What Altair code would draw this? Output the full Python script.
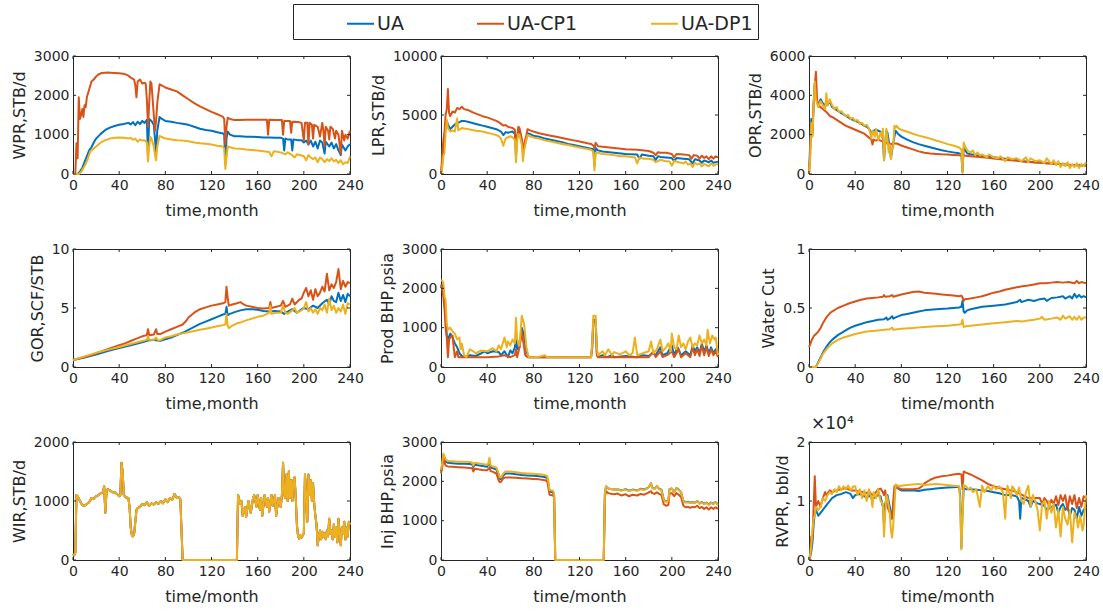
import altair as alt
import pandas as pd

SERIES = ["UA", "UA-CP1", "UA-DP1"]
COLORS = ["#0072BD", "#D95319", "#EDB120"]
X_TICKS = [0, 40, 80, 120, 160, 200, 240]
AX = "#262626"
FONT = "DejaVu Sans"
W, H = 277, 118
TL = 3

# ---------------- WPR ----------------
wpr_ua = [(0,0),(4,0),(6,60),(8,150),(10,300),(12,450),(14,600),(16,680),(18,800),(20,900),(24,1020),(28,1120),(32,1180),(36,1220),(40,1250),(44,1270),(48,1300),(50,1260),(52,1320),(54,1240),(56,1330),(58,1270),(60,1350),(62,1300),(64,1380),(65,450),(66,1400),(68,1350),(70,1250),(71,900),(72,520),(73,1100),(75,1450),(77,1400),(80,1350),(85,1330),(90,1300),(95,1280),(100,1250),(105,1200),(110,1150),(115,1120),(120,1100),(125,1060),(130,1030),(131,1000),(132,250),(133,900),(134,1080),(136,1000),(140,960),(145,960),(150,950),(155,950),(160,940),(165,930),(170,930),(175,920),(180,920),(182,900),(183,600),(184,900),(186,880),(189,880),(190,600),(191,880),(195,860),(198,860),(200,800),(202,850),(204,750),(206,850),(208,700),(210,820),(212,650),(214,850),(216,800),(218,520),(219,820),(222,700),(224,800),(226,650),(228,760),(230,600),(232,480),(233,750),(236,600),(238,700),(240,760)]
wpr_cp1 = [(0,0),(2,0),(3,780),(4,400),(5,1950),(6,1400),(7,1500),(8,1650),(9,1450),(10,1750),(11,1700),(12,1950),(14,2150),(16,2350),(18,2400),(20,2480),(22,2530),(25,2570),(30,2580),(35,2570),(40,2560),(45,2540),(48,2500),(50,2450),(53,2400),(54,2250),(55,1950),(56,2350),(58,2400),(60,2300),(62,2320),(63,2300),(64,1900),(65,1200),(66,1800),(67,2350),(68,2300),(69,1900),(70,1500),(71,1100),(72,1350),(73,1800),(75,2280),(77,2250),(80,2200),(85,2150),(90,2100),(95,2000),(100,1900),(105,1800),(110,1720),(115,1650),(120,1580),(125,1520),(130,1450),(131,1400),(132,750),(133,1200),(134,1430),(136,1400),(140,1370),(145,1370),(150,1380),(155,1380),(160,1380),(165,1380),(168,1380),(169,1000),(170,1380),(175,1370),(180,1370),(181,1370),(182,1000),(183,1350),(186,1350),(188,1350),(189,1050),(190,1330),(195,1320),(198,1300),(200,850),(201,1300),(203,1300),(204,750),(205,1300),(207,1250),(208,900),(209,1250),(212,1200),(214,950),(216,1300),(217,1100),(218,700),(219,1200),(221,1100),(222,880),(223,1200),(225,1150),(227,900),(228,1100),(230,1000),(232,500),(233,1100),(235,850),(236,1000),(238,900),(240,1100)]
wpr_dp1 = [(0,0),(5,0),(7,50),(9,150),(11,260),(13,400),(15,580),(17,620),(20,700),(24,800),(28,860),(32,900),(36,920),(40,930),(44,920),(48,900),(50,920),(52,870),(54,900),(56,820),(58,880),(60,850),(62,860),(64,800),(65,320),(66,700),(67,950),(68,900),(70,700),(71,500),(72,350),(73,700),(75,970),(77,940),(80,900),(85,880),(90,860),(95,850),(100,830),(105,800),(110,780),(115,770),(120,750),(125,720),(130,700),(131,650),(132,130),(133,400),(134,700),(136,680),(140,650),(145,640),(150,620),(155,610),(160,600),(165,580),(170,560),(172,450),(174,580),(180,550),(184,500),(186,550),(190,480),(192,420),(194,500),(198,470),(200,450),(202,350),(204,480),(206,420),(208,380),(210,420),(212,300),(214,420),(216,380),(218,300),(220,380),(222,330),(224,400),(226,320),(228,360),(230,280),(232,350),(234,250),(236,300),(238,280),(240,450)]

# ---------------- LPR ----------------
lpr_ua = [(0,0),(1,800),(2,2000),(3,3200),(4,3800),(5,4500),(6,4200),(8,3800),(10,4000),(12,4200),(14,4300),(16,4400),(18,4500),(20,4500),(24,4400),(28,4300),(32,4200),(36,4100),(40,4000),(44,3900),(48,3800),(50,3700),(52,3600),(54,3300),(56,3550),(58,3500),(60,3550),(62,3600),(64,3400),(65,1500),(66,3200),(68,3700),(70,2800),(71,1800),(72,2200),(74,3000),(75,3450),(77,3400),(80,3250),(85,3150),(90,3000),(95,2900),(100,2800),(105,2700),(110,2550),(115,2450),(120,2350),(125,2250),(130,2150),(132,2100),(133,700),(134,2200),(136,2000),(140,1900),(150,1800),(160,1700),(170,1650),(172,1300),(174,1650),(180,1550),(184,1500),(186,1200),(188,1500),(190,1450),(195,1400),(200,1350),(202,1100),(204,1350),(210,1300),(215,1250),(218,900),(220,1250),(224,1150),(226,950),(228,1150),(232,1000),(234,1150),(236,950),(240,1050)]
lpr_cp1 = [(0,0),(1,1500),(2,2800),(3,3500),(4,5000),(5,5500),(6,7200),(7,5200),(8,4900),(10,5300),(12,5200),(14,5600),(16,5500),(18,5700),(20,5500),(24,5400),(28,5200),(32,5050),(36,4900),(40,4800),(44,4650),(48,4500),(50,4400),(52,4250),(54,4100),(56,4150),(58,4000),(60,3950),(62,3900),(64,3750),(65,2300),(66,3200),(67,4000),(68,3900),(70,3000),(71,2000),(72,2500),(74,3300),(75,3800),(77,3700),(80,3600),(85,3450),(90,3350),(95,3250),(100,3150),(105,3050),(110,2950),(115,2850),(120,2750),(125,2650),(130,2550),(132,2400),(133,2200),(134,2650),(136,2350),(140,2300),(150,2200),(160,2100),(170,2050),(180,1950),(184,1800),(186,1600),(188,1850),(190,1800),(195,1800),(200,1700),(202,1400),(204,1700),(210,1650),(215,1600),(217,1300),(219,1600),(222,1550),(224,1300),(226,1550),(228,1350),(230,1500),(232,1250),(234,1500),(236,1300),(238,1500),(240,1400)]
lpr_dp1 = [(0,0),(1,500),(2,1500),(3,1800),(4,3500),(5,4600),(6,3900),(8,3600),(10,3700),(12,3600),(14,4700),(15,3700),(18,3900),(20,3850),(24,3800),(28,3700),(32,3650),(36,3600),(40,3500),(44,3400),(48,3300),(50,3200),(52,3000),(54,2400),(56,3000),(58,3100),(60,3200),(62,3100),(64,2900),(65,1000),(66,2800),(67,3400),(68,3300),(70,2500),(71,1100),(72,2000),(74,2900),(75,3300),(77,3200),(80,3100),(85,3000),(90,2850),(95,2750),(100,2650),(105,2550),(110,2450),(115,2350),(120,2250),(125,2150),(130,2050),(132,1900),(133,300),(134,1800),(136,1800),(140,1700),(145,1650),(150,1600),(155,1500),(160,1500),(165,1450),(168,1400),(170,900),(172,1400),(176,1300),(180,1300),(184,1200),(186,1000),(190,1200),(194,1100),(198,1050),(200,700),(202,1100),(206,1000),(210,900),(212,1050),(214,800),(216,900),(218,600),(220,950),(222,800),(224,900),(226,650),(228,850),(230,750),(232,650),(234,900),(236,700),(238,800),(240,850)]

# ---------------- OPR ----------------
opr_ua = [(0,0),(1,1500),(2,2800),(3,2000),(4,3500),(5,4600),(6,4000),(7,3700),(8,3500),(10,3800),(12,3600),(14,3500),(16,3500),(18,3700),(20,3400),(24,3250),(28,3100),(32,2950),(36,2800),(40,2700),(44,2600),(48,2450),(50,2400),(52,2300),(54,2100),(56,2200),(58,2250),(60,2200),(62,2150),(64,1800),(65,700),(66,1500),(67,2200),(68,2100),(70,1300),(71,800),(72,1200),(74,1900),(75,2200),(77,2050),(80,1900),(85,1750),(90,1620),(95,1520),(100,1440),(105,1360),(110,1280),(115,1210),(120,1150),(125,1100),(130,1050),(132,1000),(133,100),(134,1300),(135,1250),(137,1050),(140,1000),(145,950),(150,900),(160,850),(170,780),(180,700),(185,650),(190,620),(195,600),(200,580),(205,550),(210,530),(215,510),(220,500),(225,470),(230,460),(235,440),(240,450)]
opr_cp1 = [(0,0),(1,1000),(2,2500),(3,2200),(4,3600),(5,4500),(6,5200),(7,3800),(8,3500),(10,3400),(12,3300),(14,3200),(16,3100),(18,2950),(20,2900),(24,2750),(28,2600),(32,2450),(36,2350),(40,2250),(44,2150),(48,2050),(50,1950),(52,1850),(54,1750),(55,1500),(56,1750),(58,1700),(60,1750),(62,1700),(64,1650),(66,1600),(68,1550),(70,1550),(72,1500),(74,1550),(76,1550),(80,1450),(85,1350),(90,1250),(95,1150),(100,1080),(105,1040),(110,1020),(115,1000),(120,990),(125,970),(130,950),(134,940),(140,900),(145,880),(150,850),(155,820),(160,790),(170,730),(180,670),(190,610),(200,570),(210,530),(220,490),(230,450),(240,420)]
opr_dp1 = [(0,0),(1,800),(2,2600),(3,1900),(4,3500),(5,4700),(6,3800),(7,3600),(8,3400),(10,3700),(12,3500),(14,3300),(15,4100),(16,3500),(18,3800),(20,3500),(22,3300),(24,3400),(26,3150),(28,3200),(30,3050),(32,2950),(34,3000),(36,2800),(38,2850),(40,2700),(42,2750),(44,2550),(46,2600),(48,2450),(50,2500),(52,2300),(53,2100),(54,1800),(55,2200),(57,1900),(58,2300),(60,1700),(62,2100),(63,1900),(64,2300),(65,700),(66,1500),(67,2300),(68,1800),(69,1100),(70,1500),(71,750),(72,1300),(73,1400),(74,2450),(75,2350),(76,2450),(78,2300),(80,2250),(85,2150),(90,2050),(95,1950),(100,1880),(105,1800),(110,1700),(115,1620),(120,1520),(125,1450),(130,1350),(132,1250),(133,50),(134,1600),(135,1450),(136,1300),(138,1150),(140,1100),(142,1200),(144,950),(146,1100),(148,950),(150,1000),(154,850),(156,1000),(160,850),(164,800),(166,900),(170,650),(172,850),(176,750),(180,800),(184,650),(188,850),(190,600),(192,800),(196,650),(200,700),(204,550),(206,800),(210,500),(212,700),(214,450),(216,650),(218,350),(220,550),(222,400),(224,600),(226,300),(228,500),(230,350),(232,550),(234,300),(236,500),(238,400),(240,600)]

# ---------------- GOR ----------------
gor_ua = [(0,0.6),(10,0.8),(20,1.05),(30,1.35),(40,1.6),(50,1.85),(60,2.1),(65,2.25),(70,2.3),(75,2.2),(80,2.35),(85,2.5),(90,2.7),(95,2.9),(100,3.15),(105,3.4),(110,3.65),(115,3.85),(120,4.05),(125,4.25),(130,4.45),(132,4.5),(133,5.1),(134,4.4),(136,4.5),(140,4.65),(145,4.8),(150,4.9),(155,4.9),(160,4.85),(165,4.75),(170,4.7),(175,4.75),(180,4.7),(183,4.5),(186,4.7),(190,4.9),(194,4.6),(198,4.9),(200,5.0),(204,4.9),(208,5.2),(212,5.0),(216,5.4),(220,5.7),(222,5.3),(224,6.0),(226,5.6),(228,5.5),(230,6.3),(232,5.6),(234,6.1),(236,5.5),(238,6.2),(240,6.0)]
gor_cp1 = [(0,0.6),(10,0.85),(20,1.15),(30,1.5),(40,1.85),(45,2.0),(50,2.2),(55,2.4),(60,2.6),(64,2.7),(65,3.2),(66,2.7),(70,2.75),(72,3.2),(73,2.8),(76,2.8),(80,3.0),(85,3.2),(90,3.4),(95,3.6),(98,3.9),(100,4.2),(105,4.6),(110,4.9),(115,5.05),(120,5.2),(125,5.3),(130,5.4),(132,5.5),(133,6.8),(134,5.9),(135,5.2),(138,5.3),(142,5.4),(145,5.5),(148,5.3),(150,5.2),(155,5.1),(160,5.0),(165,4.95),(170,5.0),(171,5.5),(172,5.0),(176,5.1),(180,5.2),(182,5.6),(184,5.1),(188,5.3),(190,5.8),(192,5.3),(196,5.7),(198,5.8),(200,6.3),(202,6.7),(204,6.0),(206,6.5),(208,5.7),(210,6.6),(212,6.0),(214,6.3),(216,6.8),(218,6.4),(220,7.9),(222,6.5),(224,7.0),(226,6.7),(228,7.2),(230,8.3),(232,6.6),(234,7.3),(236,6.8),(238,7.2),(240,7.1)]
gor_dp1 = [(0,0.6),(10,0.9),(20,1.2),(30,1.45),(40,1.7),(50,1.95),(60,2.2),(64,2.3),(65,2.6),(66,2.3),(70,2.3),(72,2.5),(74,2.2),(78,2.4),(80,2.5),(85,2.6),(90,2.75),(95,2.85),(100,2.95),(105,3.05),(110,3.15),(115,3.25),(120,3.35),(125,3.45),(130,3.55),(132,3.6),(133,4.5),(134,3.5),(135,3.3),(138,3.5),(142,3.7),(146,3.8),(150,3.95),(155,4.1),(160,4.25),(165,4.35),(168,4.5),(170,4.6),(171,5.2),(172,4.5),(176,4.6),(180,4.6),(182,5.2),(184,4.6),(186,4.5),(190,4.8),(192,5.0),(194,4.6),(198,4.8),(200,5.0),(202,5.5),(204,4.7),(206,5.0),(208,4.6),(210,4.9),(212,4.5),(214,5.0),(216,4.8),(218,5.3),(220,4.6),(222,5.8),(224,4.8),(226,5.2),(228,4.6),(230,5.0),(232,4.7),(234,5.3),(236,4.5),(238,5.4),(240,5.3)]

# ---------------- Prod BHP ----------------
pbhp_ua = [(0,2000),(1,2100),(2,2000),(3,1600),(4,1300),(5,800),(6,700),(8,850),(10,750),(12,600),(14,500),(16,350),(18,280),(20,250),(25,300),(30,280),(35,350),(38,400),(40,350),(45,400),(50,380),(52,300),(55,400),(58,250),(60,420),(62,350),(64,500),(65,800),(66,450),(68,500),(70,1000),(72,800),(74,400),(76,250),(80,250),(90,250),(100,250),(110,250),(120,250),(130,250),(131,500),(132,1200),(134,1200),(135,400),(136,250),(140,300),(144,250),(148,300),(150,250),(160,280),(170,250),(175,300),(180,280),(183,350),(186,300),(190,500),(192,300),(196,350),(200,550),(202,300),(205,500),(208,300),(212,400),(216,300),(218,550),(220,400),(222,500),(224,350),(226,600),(228,380),(230,550),(232,350),(234,500),(236,350),(238,450),(240,300)]
pbhp_cp1 = [(0,2100),(1,2000),(2,1800),(3,1500),(4,1000),(5,750),(6,250),(7,700),(8,750),(10,800),(11,500),(12,250),(14,400),(15,250),(20,250),(30,250),(40,250),(50,270),(55,300),(60,250),(64,300),(65,450),(66,250),(68,500),(70,900),(71,700),(73,300),(75,250),(80,250),(90,250),(100,250),(110,250),(120,250),(130,250),(131,500),(132,1150),(134,1150),(135,300),(136,250),(150,250),(160,250),(170,250),(180,250),(184,400),(186,250),(190,400),(192,250),(196,300),(200,400),(202,250),(206,450),(208,250),(212,350),(216,250),(218,500),(220,300),(222,450),(224,280),(226,550),(228,300),(230,500),(232,280),(234,450),(236,300),(238,400),(240,250)]
pbhp_dp1 = [(0,2200),(1,2200),(2,2150),(3,1800),(4,1700),(5,1100),(6,950),(8,1000),(10,900),(12,850),(14,700),(16,750),(17,450),(18,600),(20,300),(22,250),(25,450),(28,400),(30,350),(35,420),(40,400),(45,480),(48,400),(50,550),(52,450),(55,750),(57,500),(58,650),(60,550),(62,700),(64,600),(65,1250),(66,700),(68,550),(70,1300),(72,1100),(73,800),(74,500),(76,250),(80,250),(85,260),(90,300),(92,250),(100,250),(110,250),(120,250),(130,250),(131,600),(132,1300),(134,1300),(135,500),(136,300),(140,400),(142,300),(145,450),(148,300),(150,380),(155,320),(160,400),(163,300),(166,350),(168,750),(170,300),(175,350),(180,400),(182,650),(184,350),(187,450),(190,700),(192,400),(195,500),(197,600),(199,400),(200,850),(202,500),(204,450),(206,800),(208,500),(210,600),(212,450),(214,650),(216,750),(218,500),(220,600),(222,550),(224,800),(226,600),(228,700),(230,550),(231,950),(233,600),(235,800),(237,700),(238,750),(240,300)]

# ---------------- Water Cut ----------------
wc_ua = [(0,0),(6,0),(8,0.04),(10,0.08),(12,0.12),(15,0.17),(18,0.21),(20,0.23),(25,0.27),(30,0.30),(35,0.33),(40,0.35),(45,0.365),(50,0.38),(55,0.39),(60,0.40),(65,0.405),(67,0.42),(68,0.40),(70,0.41),(72,0.43),(73,0.41),(75,0.42),(80,0.44),(85,0.45),(90,0.46),(95,0.47),(100,0.48),(110,0.49),(120,0.495),(130,0.505),(132,0.51),(133,0.56),(134,0.47),(135,0.46),(137,0.48),(140,0.49),(150,0.51),(160,0.52),(170,0.53),(180,0.55),(183,0.57),(184,0.55),(190,0.57),(195,0.56),(200,0.575),(204,0.58),(206,0.56),(210,0.585),(215,0.59),(220,0.60),(222,0.58),(226,0.60),(228,0.58),(230,0.62),(232,0.59),(234,0.61),(236,0.59),(238,0.60),(240,0.59)]
wc_cp1 = [(0,0.17),(1,0.19),(2,0.22),(4,0.26),(6,0.28),(8,0.30),(10,0.33),(12,0.37),(15,0.42),(18,0.455),(20,0.47),(25,0.50),(30,0.52),(35,0.54),(40,0.555),(45,0.57),(50,0.58),(55,0.585),(60,0.59),(64,0.595),(65,0.61),(66,0.595),(70,0.60),(72,0.61),(73,0.595),(80,0.615),(85,0.625),(90,0.635),(95,0.64),(100,0.63),(105,0.625),(110,0.62),(115,0.615),(120,0.61),(125,0.605),(130,0.60),(132,0.605),(133,0.59),(134,0.56),(135,0.575),(140,0.58),(145,0.59),(150,0.60),(155,0.615),(160,0.63),(165,0.64),(170,0.655),(175,0.665),(180,0.675),(185,0.685),(190,0.69),(195,0.70),(200,0.71),(205,0.71),(210,0.715),(215,0.72),(220,0.715),(225,0.72),(230,0.71),(232,0.73),(234,0.71),(236,0.72),(240,0.71)]
wc_dp1 = [(0,0),(6,0),(8,0.035),(10,0.07),(12,0.11),(15,0.15),(18,0.18),(20,0.20),(25,0.23),(30,0.25),(35,0.265),(40,0.28),(45,0.29),(50,0.30),(55,0.305),(60,0.31),(65,0.315),(70,0.32),(72,0.335),(73,0.315),(80,0.325),(90,0.33),(100,0.34),(110,0.345),(120,0.35),(130,0.36),(132,0.365),(133,0.40),(134,0.34),(136,0.345),(140,0.35),(150,0.36),(160,0.37),(170,0.38),(180,0.39),(185,0.385),(190,0.395),(195,0.40),(200,0.41),(202,0.425),(204,0.40),(210,0.41),(215,0.42),(218,0.40),(220,0.435),(222,0.41),(226,0.43),(228,0.40),(230,0.425),(232,0.40),(234,0.43),(236,0.40),(238,0.42),(240,0.42)]

# ---------------- WIR (all cases coincide) ----------------
wir = [(0,100),(1,80),(2,120),(3,1100),(4,1080),(6,1000),(8,930),(10,920),(12,950),(14,980),(16,1050),(18,1040),(20,1080),(22,1100),(24,1130),(26,1150),(27,1250),(28,800),(29,1150),(30,1200),(32,1180),(34,1150),(36,1150),(38,1120),(40,1080),(41,1100),(42,1650),(43,1500),(44,1100),(46,1060),(48,1050),(49,900),(50,550),(51,420),(52,400),(53,450),(54,650),(55,850),(56,880),(58,900),(60,950),(62,930),(64,980),(66,920),(68,960),(70,940),(72,980),(74,950),(76,1000),(78,960),(80,1030),(82,980),(84,1050),(86,1020),(88,1120),(90,1050),(92,1060),(93,1030),(95,0),(142,0),(143,1100),(145,950),(146,1000),(147,750),(149,900),(150,730),(152,1000),(154,800),(156,1050),(157,1100),(159,900),(160,1100),(162,850),(163,1050),(164,750),(166,1100),(168,900),(169,1050),(170,820),(172,1100),(173,920),(175,1100),(176,750),(178,1050),(180,900),(181,1100),(182,1650),(183,1100),(184,1050),(185,1450),(186,1000),(187,1500),(188,1050),(189,1350),(190,1000),(191,1350),(192,1400),(193,1050),(194,600),(195,400),(196,360),(197,420),(198,380),(200,450),(201,1450),(202,1100),(203,650),(204,1450),(205,1100),(206,1350),(207,1000),(208,1300),(209,950),(210,750),(211,600),(212,250),(213,400),(214,500),(215,350),(216,480),(217,400),(218,450),(219,350),(220,500),(221,400),(222,700),(223,450),(224,500),(225,350),(226,600),(227,400),(228,550),(229,300),(230,700),(231,450),(232,250),(233,550),(234,450),(235,650),(236,350),(237,550),(238,400),(239,650),(240,600)]

# ---------------- Inj BHP ----------------
ibhp_ua = [(0,2250),(1,2400),(2,2650),(3,2600),(4,2500),(6,2470),(10,2460),(15,2450),(20,2450),(25,2440),(27,2430),(28,2360),(29,2420),(32,2410),(36,2390),(40,2370),(42,2500),(43,2350),(45,2330),(48,2300),(50,2150),(51,2060),(52,2060),(54,2150),(56,2200),(60,2200),(65,2180),(70,2160),(75,2150),(80,2140),(85,2130),(90,2110),(92,2080),(93,1950),(94,1740),(97,1720),(98,1650),(99,0),(141,0),(142,1700),(143,1870),(145,1820),(148,1800),(150,1790),(153,1800),(156,1770),(160,1800),(163,1760),(166,1790),(170,1770),(173,1810),(176,1790),(179,1830),(180,1850),(182,1950),(183,1840),(185,1810),(187,1880),(189,1810),(191,1790),(193,1530),(195,1490),(197,1510),(198,1800),(200,1820),(202,1720),(204,1830),(206,1790),(208,1720),(210,1500),(212,1470),(214,1480),(216,1460),(218,1470),(220,1460),(222,1500),(224,1440),(226,1470),(228,1430),(230,1460),(232,1410),(234,1460),(236,1430),(238,1470),(240,1410)]
ibhp_cp1 = [(0,2200),(1,2350),(2,2600),(3,2500),(4,2400),(6,2380),(10,2370),(15,2360),(20,2350),(25,2340),(27,2330),(28,2250),(29,2320),(32,2310),(36,2290),(40,2280),(42,2350),(43,2260),(45,2240),(48,2200),(50,2020),(51,1980),(52,1990),(54,2080),(56,2100),(60,2100),(65,2090),(70,2080),(75,2070),(80,2060),(85,2050),(90,2030),(92,2000),(93,1850),(94,1660),(97,1640),(98,1600),(99,0),(141,0),(142,1600),(143,1750),(145,1700),(148,1680),(150,1670),(153,1690),(156,1640),(160,1670),(163,1620),(166,1660),(170,1640),(173,1680),(176,1660),(179,1700),(180,1720),(182,1750),(183,1700),(185,1680),(187,1720),(189,1680),(191,1650),(193,1420),(195,1380),(197,1400),(198,1680),(200,1700),(202,1620),(204,1700),(206,1660),(208,1600),(210,1380),(212,1340),(214,1350),(216,1330),(218,1350),(220,1340),(222,1380),(224,1320),(226,1350),(228,1300),(230,1340),(232,1280),(234,1340),(236,1300),(238,1340),(240,1300)]
ibhp_dp1 = [(0,2300),(1,2450),(2,2700),(3,2650),(4,2550),(6,2520),(10,2510),(15,2500),(20,2500),(25,2490),(27,2480),(28,2400),(29,2470),(32,2460),(36,2440),(40,2420),(41,2450),(42,2600),(43,2400),(45,2380),(48,2350),(50,2200),(51,2100),(52,2100),(54,2200),(56,2250),(60,2250),(65,2230),(70,2210),(75,2200),(80,2190),(85,2180),(90,2160),(92,2130),(93,2000),(94,1780),(97,1760),(98,1700),(99,0),(141,0),(142,1700),(143,1880),(145,1820),(148,1800),(150,1780),(153,1810),(156,1760),(160,1790),(163,1750),(166,1780),(170,1760),(173,1800),(176,1780),(179,1820),(180,1850),(182,1950),(183,1830),(185,1800),(187,1880),(189,1800),(191,1780),(193,1520),(195,1480),(197,1500),(198,1800),(200,1820),(202,1720),(204,1820),(206,1780),(208,1720),(210,1500),(212,1460),(214,1470),(216,1450),(218,1460),(220,1450),(222,1500),(224,1430),(226,1460),(228,1420),(230,1450),(232,1400),(234,1450),(236,1420),(238,1460),(240,1400)]

# ---------------- RVPR ----------------
rv_ua = [(0,0),(1,500),(2,1500),(3,3000),(4,6000),(5,8000),(6,8500),(8,7500),(10,8000),(12,8500),(14,9000),(16,9500),(18,10000),(20,10500),(24,11000),(28,11200),(32,11500),(36,11200),(38,10500),(40,11000),(44,11200),(48,10800),(50,10500),(52,11000),(55,10300),(58,10800),(60,11000),(62,10800),(64,9000),(65,6000),(66,9500),(68,11000),(70,9000),(72,7000),(73,9000),(75,12500),(78,12000),(80,11800),(85,11800),(90,11800),(95,11700),(100,11900),(105,12000),(110,12100),(115,12200),(120,12300),(125,12350),(130,12400),(131,11000),(132,2000),(133,8000),(134,12200),(136,12000),(140,12000),(145,11900),(150,11800),(155,11700),(160,11500),(165,11300),(170,11000),(175,11000),(180,10800),(182,10000),(183,7000),(184,10500),(186,10400),(190,10000),(192,9000),(194,10000),(198,9600),(200,9500),(204,9200),(206,8500),(210,9000),(214,9400),(216,8000),(218,9000),(220,9500),(222,8500),(224,9000),(226,7500),(228,8800),(230,8500),(232,7000),(234,9000),(236,7500),(238,8500),(240,9000)]
rv_cp1 = [(0,0),(1,1000),(2,4000),(3,3500),(4,9000),(5,14200),(6,9000),(7,9500),(8,10000),(10,9000),(12,10500),(14,11500),(15,11000),(18,11800),(20,11500),(24,11800),(28,12000),(32,12200),(36,11800),(40,11800),(44,11600),(48,11500),(50,11300),(52,11600),(55,11000),(58,11500),(60,12000),(62,12100),(64,11500),(65,11000),(66,11800),(68,9000),(70,8000),(71,7000),(72,7500),(73,10000),(74,12500),(76,12300),(80,12000),(85,12000),(90,12000),(95,12100),(98,12500),(100,13000),(105,13600),(110,14000),(115,14200),(120,14300),(125,14500),(130,14600),(132,14500),(133,12000),(134,15000),(136,14800),(140,14500),(145,14000),(150,13500),(155,12900),(160,12500),(165,12200),(170,12000),(175,11800),(180,11500),(185,11000),(190,10500),(195,10500),(200,10500),(202,9500),(204,10500),(206,10000),(208,9200),(210,10200),(212,9500),(214,10800),(216,9300),(218,11000),(220,10000),(222,11000),(224,8500),(226,10800),(228,9500),(230,11000),(232,8800),(234,10500),(236,9000),(238,10800),(240,10500)]
rv_dp1 = [(0,0),(1,800),(2,2500),(3,5000),(4,7000),(5,7500),(6,9000),(8,8500),(10,9000),(12,10500),(14,10000),(16,11000),(18,11500),(20,11200),(22,12000),(24,11500),(26,12500),(28,11800),(30,12500),(32,12000),(34,12600),(36,11800),(38,12400),(40,12500),(42,11000),(44,12000),(46,10500),(48,11800),(50,10000),(52,12000),(54,10500),(55,9000),(56,11500),(58,10500),(60,12000),(62,10000),(64,9500),(65,4000),(66,8000),(67,11000),(68,10500),(70,8000),(71,5000),(72,3800),(73,6000),(74,9000),(75,12800),(78,12500),(80,12600),(85,12700),(90,12800),(95,12900),(100,12700),(105,12800),(110,12900),(115,12800),(120,12700),(125,12600),(130,12500),(131,10000),(132,1800),(133,7000),(134,12700),(136,12500),(138,12000),(140,12300),(142,11500),(145,12000),(147,10000),(148,9000),(150,12600),(152,11500),(155,12500),(158,11800),(160,12600),(162,12000),(165,12500),(168,11500),(170,7000),(171,11000),(172,12600),(174,11000),(175,10500),(176,12500),(178,12000),(180,11000),(182,12300),(184,10000),(186,9500),(188,11500),(190,12600),(192,9000),(194,11000),(196,10000),(198,8500),(200,5000),(202,9500),(204,10000),(206,7000),(208,10000),(210,8000),(212,9500),(214,5500),(216,8500),(218,4000),(220,9000),(222,7000),(224,6000),(226,8500),(228,3000),(230,8000),(232,7000),(233,5500),(235,7500),(237,5000),(238,6000),(240,11000)]

PANELS = [
    dict(ytitle="WPR,STB/d", xtitle="time,month", ymax=3000, yticks=[0, 1000, 2000, 3000], series=[wpr_ua, wpr_cp1, wpr_dp1]),
    dict(ytitle="LPR,STB/d", xtitle="time,month", ymax=10000, yticks=[0, 5000, 10000], series=[lpr_ua, lpr_cp1, lpr_dp1]),
    dict(ytitle="OPR,STB/d", xtitle="time,month", ymax=6000, yticks=[0, 2000, 4000, 6000], series=[opr_ua, opr_cp1, opr_dp1]),
    dict(ytitle="GOR,SCF/STB", xtitle="time,month", ymax=10, yticks=[0, 5, 10], series=[gor_ua, gor_cp1, gor_dp1]),
    dict(ytitle="Prod BHP,psia", xtitle="time,month", ymax=3000, yticks=[0, 1000, 2000, 3000], series=[pbhp_ua, pbhp_cp1, pbhp_dp1]),
    dict(ytitle="Water Cut", xtitle="time/month", ymax=1, yticks=[0, 0.5, 1], series=[wc_ua, wc_cp1, wc_dp1]),
    dict(ytitle="WIR,STB/d", xtitle="time/month", ymax=2000, yticks=[0, 1000, 2000], series=[wir, wir, wir]),
    dict(ytitle="Inj BHP,psia", xtitle="time/month", ymax=3000, yticks=[0, 1000, 2000, 3000], series=[ibhp_ua, ibhp_cp1, ibhp_dp1]),
    dict(ytitle="RVPR, bbl/d", xtitle="time/month", ymax=20000, yticks=[0, 10000, 20000], series=[rv_ua, rv_cp1, rv_dp1], exp=True),
]

LEGEND = alt.Legend(
    title=None, orient="none", legendX=220, legendY=-52, direction="horizontal", columns=3,
    symbolType="stroke", symbolSize=729, symbolStrokeWidth=2, symbolOffset=48,
    labelOffset=2, labelFont=FONT, labelFontSize=19, labelColor=AX,
    labelExpr="datum.label == 'UA-DP1' ? 'UA-DP1           ' : datum.label",
    columnPadding=24, padding=5, strokeColor=AX, fillColor="white",
)


def make_panel(p):
    rows = []
    for name, pts in zip(SERIES, p["series"]):
        for t, v in pts:
            rows.append({"t": t, "v": v, "s": name})
    df = pd.DataFrame(rows)
    xs = alt.Scale(domain=[0, 240], nice=False)
    ys = alt.Scale(domain=[0, p["ymax"]], nice=False)
    ylab = "'' + (datum.value / 10000)" if p.get("exp") else "'' + datum.value"
    xaxis = alt.Axis(values=X_TICKS, title=p["xtitle"], labelExpr="'' + datum.value")
    yaxis = alt.Axis(values=p["yticks"], title=p["ytitle"], labelExpr=ylab)
    X = alt.X("t:Q", scale=xs, axis=xaxis)
    Y = alt.Y("v:Q", scale=ys, axis=yaxis)
    lines = alt.Chart(df).mark_line(strokeWidth=2, strokeJoin="round").encode(
        x=X, y=Y,
        color=alt.Color("s:N", scale=alt.Scale(domain=SERIES, range=COLORS), legend=LEGEND),
    )
    xt = pd.DataFrame({"t": X_TICKS})
    yt = pd.DataFrame({"v": p["yticks"]})
    rule = dict(color=AX, strokeWidth=1)
    tb = alt.Chart(xt).mark_rule(**rule).encode(x=X, y=alt.value(H), y2=alt.value(H - TL))
    tt = alt.Chart(xt).mark_rule(**rule).encode(x=X, y=alt.value(0), y2=alt.value(TL))
    tl = alt.Chart(yt).mark_rule(**rule).encode(y=Y, x=alt.value(0), x2=alt.value(TL))
    tr = alt.Chart(yt).mark_rule(**rule).encode(y=Y, x=alt.value(W), x2=alt.value(W - TL))
    props = dict(width=W, height=H)
    if p.get("exp"):
        props["title"] = alt.TitleParams("×10⁴", anchor="start", frame="group", font=FONT, fontSize=17,
                                         fontWeight="normal", color=AX, offset=2, dx=2)
    return alt.layer(lines, tb, tt, tl, tr).properties(**props)


chart = alt.concat(*[make_panel(p) for p in PANELS], columns=3,
                   spacing={"row": 75, "column": 91}, bounds="flush").properties(
    padding={"left": 10, "top": 3, "right": 2, "bottom": 1}
).configure_view(stroke=AX, strokeWidth=1).configure_axis(
    ticks=False, domain=False, grid=False, labelFont=FONT, labelFontSize=14, labelColor=AX,
    labelPadding=4, labelFlush=False, labelOverlap=False, titleFont=FONT, titleFontSize=16,
    titleFontWeight="normal", titleColor=AX,
).configure_axisX(titlePadding=10).configure_axisY(titlePadding=6)

chart.save("out.html", embed_options={"renderer": "svg", "actions": False})
